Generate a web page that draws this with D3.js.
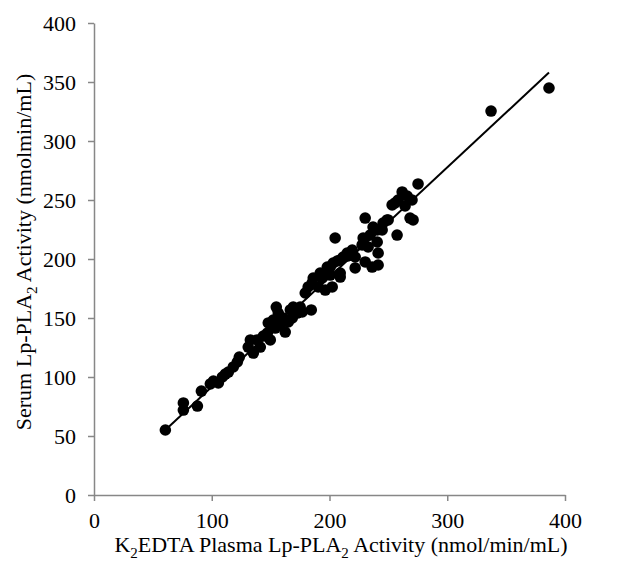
<!DOCTYPE html>
<html>
<head>
<meta charset="utf-8">
<script src="https://cdn.jsdelivr.net/npm/d3@7"></script>
<style>
  html, body { margin: 0; padding: 0; background: #fff; }
  svg { display: block; }
  text { font-family: "Liberation Serif", "Times New Roman", serif; fill: #000; }
</style>
</head>
<body>
<svg id="chart" width="622" height="569"></svg>
<script>
// Data (K2EDTA plasma vs serum Lp-PLA2 activity)
const plasma = [60.6, 75.9, 75.9, 87.8, 91.2, 101.4, 105.6, 109.0, 111.5, 114.1, 118.3, 121.7, 123.4, 98.8,
  131.0, 132.8, 135.3, 138.7, 141.2, 143.8, 147.2, 149.7, 148.0, 152.2, 154.8, 156.5, 160.7, 162.4, 165.0,
  166.7, 169.2, 172.6, 175.1, 176.8, 179.4, 181.9, 184.5, 185.3, 190.4, 193.8, 197.2, 200.6, 196.4, 202.3,
  209.1, 206.5, 211.6, 215.0, 204.8, 186.2, 192.1, 198.1, 203.1, 209.1, 215.0, 219.3, 221.8, 209.1, 200.6,
  221.8, 230.3, 236.2, 241.3, 241.3, 227.7, 232.8, 228.6, 234.5, 240.5, 240.5, 245.5, 249.8, 230.3, 257.4,
  253.2, 258.3, 261.7, 268.4, 275.2, 265.9, 270.1, 264.2, 255.7, 271.0, 244.7, 248.9, 337.2, 386.4,
  153.9, 158.2, 168.4, 237.0];
const serum = [55.1, 78.0, 72.0, 75.4, 88.1, 96.6, 94.9, 100.0, 102.5, 104.2, 108.5, 112.7, 116.9, 94.1,
  125.4, 131.4, 120.3, 131.4, 125.4, 134.7, 137.3, 131.4, 145.8, 148.3, 159.3, 154.2, 150.0, 138.1, 146.6,
  156.8, 159.3, 154.2, 159.3, 155.1, 171.2, 176.3, 156.8, 179.7, 176.3, 183.9, 188.1, 193.2, 173.7, 176.3,
  184.7, 198.3, 201.7, 205.1, 217.8, 183.9, 188.1, 193.2, 196.6, 199.2, 202.5, 207.6, 201.7, 188.1, 186.4,
  192.4, 197.5, 193.2, 194.9, 205.1, 211.9, 210.2, 217.8, 220.3, 224.6, 214.4, 230.5, 233.1, 234.7, 220.3,
  245.8, 250.0, 256.8, 234.7, 263.6, 253.4, 250.0, 244.9, 247.5, 233.1, 224.6, 233.1, 325.4, 344.9,
  141.5, 144.1, 150.0, 227.1];
// Fitted line end points
const fitX = [60.6, 386.4];
const fitY = [55.0, 358.0];
const xTicks = [0, 100, 200, 300, 400];
const yTicks = [0, 50, 100, 150, 200, 250, 300, 350, 400];

const svg = d3.select("#chart");
const x = d3.scaleLinear().domain([0, 400]).range([94, 565]);
const y = d3.scaleLinear().domain([0, 400]).range([495, 23]);
const axisColor = "#878787";
const fontFam = '"Liberation Serif", "Times New Roman", serif';

// Y axis
const gy = svg.append("g").attr("transform", `translate(${x(0)},0)`)
  .call(d3.axisLeft(y).tickValues(yTicks).tickSize(6).tickPadding(12).tickSizeOuter(0));
// X axis
const gx = svg.append("g").attr("transform", `translate(0,${y(0)})`)
  .call(d3.axisBottom(x).tickValues(xTicks).tickSize(6).tickPadding(11).tickSizeOuter(0));
[gx, gy].forEach(g => {
  g.select(".domain").attr("stroke", axisColor).attr("stroke-width", 1.5);
  g.selectAll(".tick line").attr("stroke", axisColor).attr("stroke-width", 1.5);
  g.selectAll(".tick text").attr("fill", "#000").style("font-size", "22px")
    .style("font-family", fontFam);
});

// Fit line
svg.append("line")
  .attr("x1", x(fitX[0])).attr("y1", y(fitY[0]))
  .attr("x2", x(fitX[1])).attr("y2", y(fitY[1]))
  .attr("stroke", "#000").attr("stroke-width", 2);

// Points
svg.append("g").selectAll("circle")
  .data(plasma.map((v, i) => [v, serum[i]]))
  .join("circle")
  .attr("cx", d => x(d[0])).attr("cy", d => y(d[1]))
  .attr("r", 5.8).attr("fill", "#000");

// X title
const xt = svg.append("text").attr("x", 341).attr("y", 552).attr("text-anchor", "middle")
  .style("font-size", "22px");
xt.append("tspan").text("K");
xt.append("tspan").text("2").attr("dy", 6).style("font-size", "15px");
xt.append("tspan").text("EDTA Plasma Lp-PLA").attr("dy", -6);
xt.append("tspan").text("2").attr("dy", 6).style("font-size", "15px");
xt.append("tspan").text(" Activity (nmol/min/mL)").attr("dy", -6);

// Y title
const yt = svg.append("text").attr("transform", "translate(31,252) rotate(-90)")
  .attr("text-anchor", "middle").style("font-size", "22px");
yt.append("tspan").text("Serum Lp-PLA");
yt.append("tspan").text("2").attr("dy", 6).style("font-size", "15px");
yt.append("tspan").text(" Activity (nmolmin/mL)").attr("dy", -6);
</script>
</body>
</html>
